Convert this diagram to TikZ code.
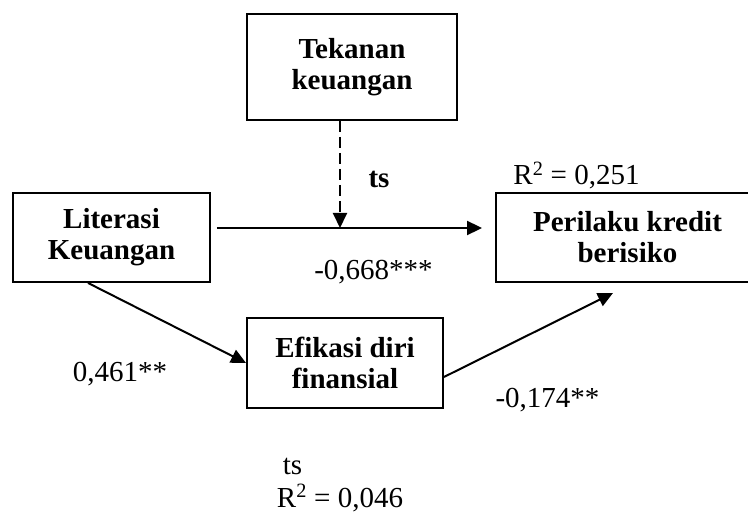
\documentclass[tikz,border=0pt]{standalone}
\usepackage{fontspec}
\setmainfont{Liberation Serif}
\usetikzlibrary{arrows.meta,calc}
\begin{document}
\begin{tikzpicture}[x=1pt,y=-1pt,
  box/.style={draw,line width=1.9pt,align=center,font=\fontsize{29}{31}\selectfont\bfseries,inner sep=0pt},
  lbl/.style={font=\fontsize{29}{31}\selectfont,inner sep=0pt,anchor=base},
  blbl/.style={lbl,font=\fontsize{29}{31}\selectfont\bfseries},
  conn/.style={line width=2pt,-{Triangle[length=15pt,width=14pt]}},
  modline/.style={conn,dash pattern=on 11pt off 5pt},
]
\useasboundingbox (0,0) rectangle (748,513);
\clip (0,0) rectangle (748,513);
% boxes
\node[box,minimum width=210pt,minimum height=106pt] (tek) at (352,67) {Tekanan\\keuangan};
\node[box,minimum width=197pt,minimum height=89pt] (lit) at (111.5,237.5) {Literasi\\Keuangan};
\node[box,minimum width=263pt,minimum height=89pt] (per) at (627.5,237.5) {Perilaku kredit\\berisiko};
\node[box,minimum width=196pt,minimum height=90pt] (efi) at (345,363) {Efikasi diri\\finansial};
% connector end points
\coordinate (hs) at ($(lit.east)+(6,-9.5)$);
\coordinate (he) at ($(per.west)+(-13,-9.5)$);
\coordinate (mod) at (340,228);
\coordinate (ls) at ($(lit.south)+(-23.5,0)$);
\coordinate (es) at ($(efi.east)+(0,14)$);
\coordinate (pe) at (613,293);
% connectors
\draw[conn] (hs) -- (he);
\draw[modline] (tek.south -| mod) -- (mod);
\draw[conn] (ls) -- (efi.west);
\draw[conn] (es) -- (pe);
% labels
\node[blbl] (tsA) at (379,188) {ts};
\node[lbl] (c1) at (373.5,280) {-0,668***};
\node[lbl] (c2) at (120,382) {0,461**};
\node[lbl] (c3) at (547.5,407) {-0,174**};
\node[lbl] (r1) at (576.5,185) {R\textsuperscript{2} = 0,251};
\node[lbl] (tsB) at (292.5,475) {ts};
\node[lbl] (r2) at (340,507) {R\textsuperscript{2} = 0,046};
\end{tikzpicture}
\end{document}
